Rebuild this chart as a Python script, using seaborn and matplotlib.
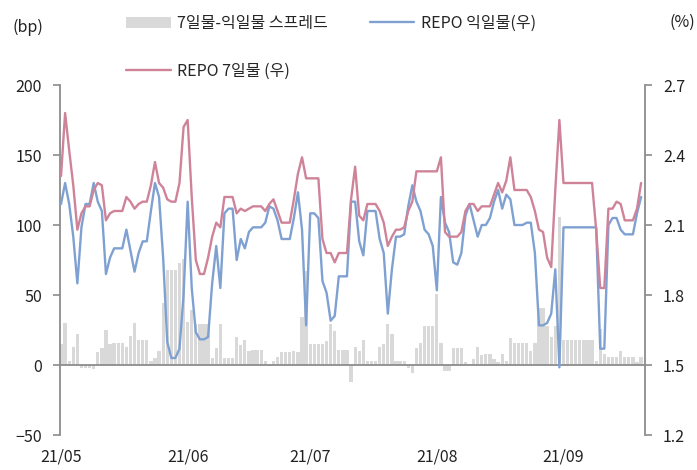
import matplotlib
matplotlib.use('Agg')
import matplotlib.pyplot as plt
import matplotlib.dates as mdates
import seaborn as sns
import pandas as pd

# 일별 (2021-05-01 ~ 2021-09-20)
dates = pd.date_range('2021-05-01', '2021-09-20', freq='D')

# 7일물-익일물 스프레드 (bp, 좌)
spread = [15, 30, 3, 13, 22, -2, -2, -2, -3, 9,
          12, 25, 15, 16, 16, 16, 13, 21, 30, 18,
          18, 18, 3, 5, 10, 44, 68, 68, 68, 73,
          76, 31, 39, 29, 29, 29, 29, 5, 12, 29,
          5, 5, 5, 20, 14, 18, 10, 11, 11, 11,
          3, -1, 3, 6, 9, 9, 9, 10, 9, 34,
          67, 15, 15, 15, 15, 17, 29, 24, 11, 11,
          11, -12, 13, 10, 18, 3, 3, 3, 13, 15,
          29, 22, 3, 3, 3, -2, -6, 12, 16, 28,
          28, 28, 51, 16, -4, -4, 12, 12, 12, 2,
          1, 4, 13, 7, 8, 8, 4, 2, 8, 3,
          19, 16, 16, 16, 16, 10, 16, 41, 41, 28,
          20, 28, 106, 18, 18, 18, 18, 18, 18, 18,
          18, 3, 26, 8, 6, 6, 6, 10, 6, 6,
          6, 2, 6]

# REPO 익일물 (%, 우)
repo_1d = [2.19, 2.28, 2.19, 2.05, 1.85, 2.09, 2.19, 2.19, 2.28, 2.20,
           2.16, 1.89, 1.96, 2.00, 2.00, 2.00, 2.08, 1.99, 1.90, 1.98,
           2.03, 2.03, 2.16, 2.28, 2.22, 1.96, 1.60, 1.53, 1.53, 1.57,
           1.80, 2.20, 1.83, 1.64, 1.61, 1.61, 1.62, 1.85, 2.01, 1.83,
           2.15, 2.17, 2.17, 1.95, 2.04, 2.00, 2.07, 2.09, 2.09, 2.09,
           2.11, 2.18, 2.17, 2.12, 2.04, 2.04, 2.04, 2.13, 2.24, 2.08,
           1.67, 2.15, 2.15, 2.13, 1.86, 1.81, 1.69, 1.71, 1.88, 1.88,
           1.88, 2.20, 2.20, 2.03, 1.97, 2.16, 2.16, 2.16, 2.04, 1.98,
           1.72, 1.91, 2.05, 2.05, 2.06, 2.18, 2.27, 2.20, 2.16, 2.08,
           2.06, 2.01, 1.82, 2.22, 2.11, 2.07, 1.94, 1.93, 1.98, 2.14,
           2.19, 2.12, 2.05, 2.10, 2.10, 2.13, 2.20, 2.25, 2.17, 2.23,
           2.21, 2.10, 2.10, 2.10, 2.11, 2.11, 1.98, 1.67, 1.67, 1.68,
           1.72, 1.91, 1.49, 2.09, 2.09, 2.09, 2.09, 2.09, 2.09, 2.09,
           2.09, 2.09, 1.57, 1.57, 2.10, 2.13, 2.13, 2.08, 2.06, 2.06,
           2.06, 2.15, 2.22]

# REPO 7일물 (%, 우)
repo_7d = [2.31, 2.58, 2.42, 2.27, 2.08, 2.15, 2.18, 2.18, 2.25, 2.28,
           2.27, 2.12, 2.15, 2.16, 2.16, 2.16, 2.22, 2.20, 2.17, 2.19,
           2.20, 2.20, 2.27, 2.37, 2.28, 2.26, 2.21, 2.20, 2.20, 2.28,
           2.52, 2.55, 2.22, 1.95, 1.89, 1.89, 1.96, 2.05, 2.11, 2.09,
           2.22, 2.22, 2.22, 2.15, 2.17, 2.16, 2.17, 2.18, 2.18, 2.18,
           2.16, 2.19, 2.21, 2.16, 2.11, 2.11, 2.11, 2.21, 2.32, 2.39,
           2.30, 2.30, 2.30, 2.30, 2.04, 1.98, 1.98, 1.94, 1.98, 1.98,
           1.98, 2.21, 2.35, 2.14, 2.12, 2.19, 2.19, 2.19, 2.16, 2.11,
           2.01, 2.05, 2.08, 2.08, 2.09, 2.16, 2.20, 2.33, 2.33, 2.33,
           2.33, 2.33, 2.33, 2.39, 2.07, 2.05, 2.05, 2.05, 2.07, 2.16,
           2.19, 2.19, 2.16, 2.18, 2.18, 2.18, 2.23, 2.28, 2.24, 2.29,
           2.39, 2.25, 2.25, 2.25, 2.25, 2.22, 2.16, 2.08, 2.07, 1.96,
           1.92, 2.25, 2.55, 2.28, 2.28, 2.28, 2.28, 2.28, 2.28, 2.28,
           2.28, 2.08, 1.83, 1.83, 2.17, 2.17, 2.20, 2.19, 2.12, 2.12,
           2.12, 2.17, 2.28]

bar_color = '#d9d9d9'
blue = '#7fa1d2'
pink = '#cf8399'
grey = '#8c8c8c'
fs = 11.5

sns.set_style('white')
plt.rcParams['font.family'] = ['Noto Sans CJK KR', 'DejaVu Sans']

fig = plt.figure(figsize=(6.97, 4.70), dpi=100)
ax = fig.add_axes([60 / 697, 35 / 470, 585 / 697, 350 / 470])

bars = ax.bar(dates, spread, width=0.8, color=bar_color, linewidth=0)

ax2 = ax.twinx()
sns.lineplot(x=dates, y=repo_1d, ax=ax2, color=blue, linewidth=1.7)
sns.lineplot(x=dates, y=repo_7d, ax=ax2, color=pink, linewidth=1.7)
line_1d, line_7d = ax2.lines[0], ax2.lines[1]

ax.set_ylim(-50, 200)
ax.set_yticks(range(-50, 201, 50))
ax2.set_ylim(1.2, 2.7)
ax2.set_yticks([1.2, 1.5, 1.8, 2.1, 2.4, 2.7])
ax2.set_yticklabels(['1.2', '1.5', '1.8', '2.1', '2.4', '2.7'])

ax.set_xlim(dates[0] - pd.Timedelta(hours=6), dates[-1] + pd.Timedelta(hours=23))
ax.xaxis.set_major_locator(mdates.MonthLocator())
ax.xaxis.set_major_formatter(mdates.DateFormatter('%y/%m'))
ax.set_xlabel('')
ax2.set_xlabel('')
ax.set_ylabel('')
ax2.set_ylabel('')

for s in ['top', 'right']:
    ax.spines[s].set_visible(False)
for s in ['top', 'bottom', 'left']:
    ax2.spines[s].set_visible(False)
ax.spines['bottom'].set_position(('data', 0))
for sp in [ax.spines['left'], ax.spines['bottom'], ax2.spines['right']]:
    sp.set_color(grey)
    sp.set_linewidth(1.3)

ax.tick_params(axis='x', direction='out', length=5, width=1.2, color=grey,
               pad=55, labelsize=fs, labelcolor='#222222')
ax.tick_params(axis='y', direction='out', length=5, width=1.2, color=grey,
               pad=8, labelsize=fs, labelcolor='#222222')
ax2.tick_params(axis='y', direction='out', length=5, width=1.2, color=grey,
                pad=8, labelsize=fs, labelcolor='#222222')

fig.legend([bars, line_7d, line_1d],
           ['7일물-익일물 스프레드', 'REPO 7일물 (우)', 'REPO 익일물(우)'],
           ncol=2, loc='upper left', bbox_to_anchor=(126 / 697, 1 - 15 / 470),
           frameon=False, fontsize=fs, handlelength=2.8, handletextpad=0.4,
           columnspacing=2.6, labelspacing=1.9, borderpad=0, borderaxespad=0)

fig.text(12 / 697, 1 - 27 / 470, '(bp)', ha='left', va='center', fontsize=fs, color='#222222')
fig.text(695 / 697, 1 - 22 / 470, '(%)', ha='right', va='center', fontsize=fs, color='#222222')

fig.savefig('out.png', dpi=100)
